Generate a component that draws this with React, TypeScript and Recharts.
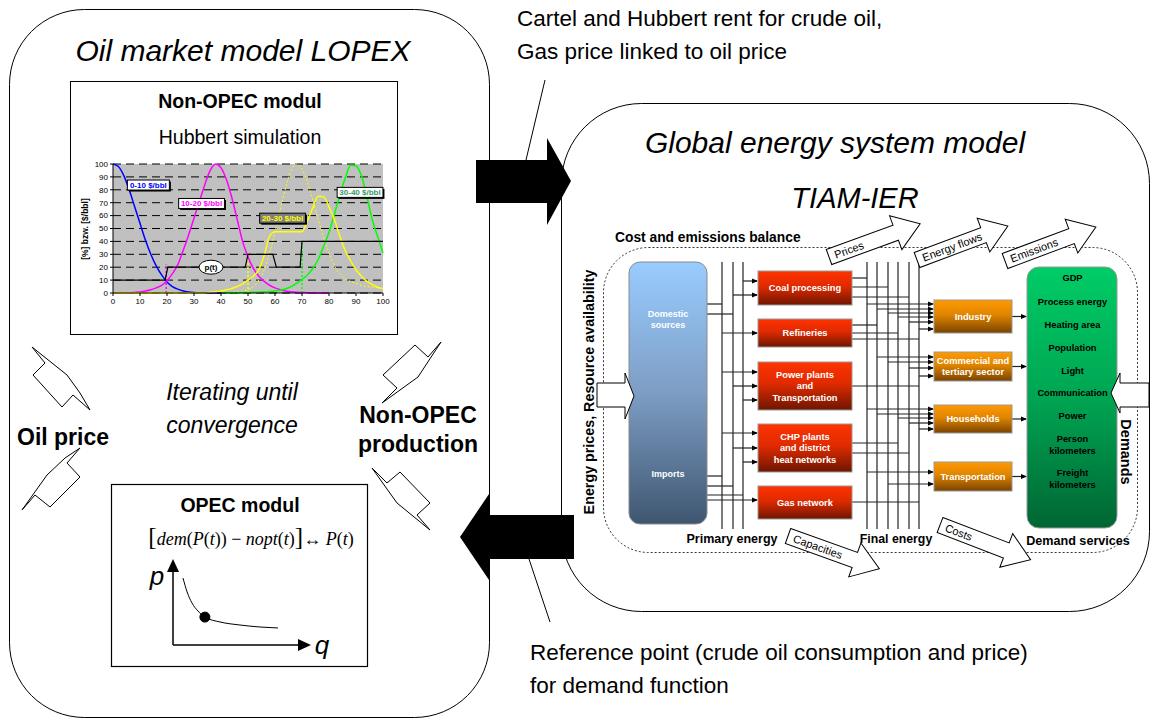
import React from 'react';
import { LineChart, Line, XAxis, YAxis, CartesianGrid, ReferenceDot } from 'recharts';

// Hubbert simulation (Non-OPEC modul), step 2 on x
const hubbertX = [
  0, 2, 4, 6, 8, 10, 12, 14, 16, 18, 20, 22, 24, 26, 28, 30, 32, 34, 36, 38, 40, 42, 44, 46, 48, 50,
  52, 54, 56, 58, 60, 62, 64, 66, 68, 70, 72, 74, 76, 78, 80, 82, 84, 86, 88, 90, 92, 94, 96, 98, 100,
];
const band0to10 = [
  100, 98, 91, 80, 67, 54, 41, 30, 21, 14, 8.5, 5, 3, 1.6, 0.8, 0.4, 0.2, 0.1, 0, 0, 0, 0,
  null, null, null, null, null, null, null, null, null, null, null, null, null, null, null, null, null, null,
  null, null, null, null, null, null, null, null, null, null, null,
];
const band10to20 = [
  0.1, 0.1, 0.1, 0.2, 0.3, 0.8, 1.5, 2.5, 4, 6, 9.5, 15, 22, 33, 45, 58, 71, 84, 95, 100, 97, 88, 74, 57, 40, 28,
  19, 13, 9, 6, 4, 2.5, 1.6, 1, 0.6, 0.4, 0.2, 0.1, 0, 0, 0, null, null, null, null, null, null, null, null, null, null,
];
const band20to30 = [
  0, 0, 0, 0, 0, 0, 0, 0, 0, 0, 0, 0, 0, 0, 0, 0, 0, 0, 0.5, 1, 1.5, 2.5, 3.5, 5, 7, 10,
  13, 18, 29, 44, 47.5, 47.5, 47.5, 47.5, 47.5, 47.5, 56, 66, 75, 74.5, 67, 57, 44, 33, 25, 18, 13, 9, 6.5, 4.5, 3.5,
];
const potential20to30 = [
  null, null, null, null, null, null, null, null, null, null, null, null, null, null, null, null, null, null, null, null,
  0.1, 0.2, 0.5, 0.9, 1.5, 2.5, 5, 10, 18, 31, 47, 65, 82, 95, 100, 96, 86, 72, 57, 43, 31, 21, 15, 11, 9, 7.5, 6, 5,
  4.5, 4, 3.5,
];
const band30to40 = [
  null, null, null, null, null, null, null, null, null, null, null, null, null, null, null, null, null, null, null, null,
  0, 0.1, 0.1, 0.2, 0.3, 0.4, 0.5, 0.7, 0.9, 1.2, 1.6, 2.2, 3.3, 5, 7.5, 10.5, 14, 19, 26, 36, 47, 61, 76, 89, 99,
  98.5, 91, 75, 57, 44, 31,
];
const priceStepX = [0, 19.3, 20.3, 49, 50, 59.2, 60.5, 69.3, 70, 100];
const priceStepY = [10, 10, 20, 20, 30, 30, 20, 20, 40, 40];
const dropX = [19.7, 50, 70];
const dropTop = [22, 30, 40];
const tagLabels = ['0-10 $/bbl', '10-20 $/bbl', '20-30 $/bbl', '30-40 $/bbl'];
const tagX = [13.1, 32.8, 62.8, 91.5];
const tagY = [83.7, 69.4, 58, 78];
const axisTicks = [0, 10, 20, 30, 40, 50, 60, 70, 80, 90, 100];

// OPEC modul demand curve
const demandQ = [0.69, 0.97, 1.31, 1.72, 2.2, 3.24, 4.62, 6, 7.24];
const demandP = [7.44, 5.9, 4.67, 3.78, 3.1, 2.56, 2.22, 2.0, 1.89];

// TIAM-IER labels
const conversionLabels = [['Coal processing'], ['Refineries'], ['Power plants', 'and', 'Transportation'], ['CHP plants', 'and district', 'heat networks'], ['Gas network']];
const sectorLabels = [['Industry'], ['Commercial and', 'tertiary sector'], ['Households'], ['Transportation']];
const demandLabels = [['GDP'], ['Process energy'], ['Heating area'], ['Population'], ['Light'], ['Communication'], ['Power'], ['Person', 'kilometers'], ['Freight', 'kilometers']];
const flowLabels = ['Prices', 'Energy flows', 'Emissions', 'Capacities', 'Costs'];

const FONT = 'Arial, "Liberation Sans", Helvetica, sans-serif';
const SERIF = '"Liberation Serif", "Times New Roman", serif';

const pts = (xs: number[], ys: (number | null)[]) => xs.map((x, i) => ({ x, y: ys[i] }));

const tagStyle = [
  { color: '#0000ff', fill: '#ffffff' },
  { color: '#ff00ff', fill: '#ffffff' },
  { color: '#ffff00', fill: '#7f7f7f' },
  { color: '#339966', fill: '#ffffff' },
];

function BandTag({ cx, cy, text, color, fill }: any) {
  const w = text.length * 3.8 + 4;
  return (
    <g>
      <rect x={cx - w / 2 + 1.5} y={cy - 5 + 1.5} width={w} height={10} fill="#000" />
      <rect x={cx - w / 2} y={cy - 5} width={w} height={10} fill={fill} stroke="#000" strokeWidth={1} />
      <text x={cx} y={cy + 3} textAnchor="middle" fontSize={8} fontWeight="bold" fill={color} fontFamily={FONT}>
        {text}
      </text>
    </g>
  );
}

function HubbertChart() {
  return (
    <LineChart width={315} height={150} margin={{ top: 6, right: 7, left: 16, bottom: 2 }}>
      <CartesianGrid vertical={false} stroke="#000" strokeDasharray="8 5" fill="#c0c0c0" fillOpacity={1} />
      <XAxis
        type="number"
        dataKey="x"
        domain={[0, 100]}
        ticks={axisTicks}
        height={13}
        tickSize={3}
        tick={{ fontSize: 8, fill: '#000', fontFamily: FONT }}
        stroke="#000"
        allowDuplicatedCategory={false}
      />
      <YAxis
        type="number"
        domain={[0, 100]}
        ticks={axisTicks}
        width={22}
        tickSize={3}
        interval={0}
        tick={{ fontSize: 8, fill: '#000', fontFamily: FONT }}
        stroke="#000"
      />
      {dropX.map((x, i) => (
        <Line
          key={`drop-${i}`}
          data={[{ x, y: 0 }, { x, y: dropTop[i] }]}
          dataKey="y"
          stroke={['#ff00ff', '#ffff00', '#00ff00'][i]}
          strokeWidth={1.5}
          strokeDasharray="2 2"
          dot={false}
          activeDot={false}
          isAnimationActive={false}
        />
      ))}
      <Line data={pts(hubbertX, potential20to30)} dataKey="y" type="monotone" stroke="#ffff00" strokeWidth={1} strokeDasharray="2 2" dot={false} activeDot={false} isAnimationActive={false} />
      <Line data={pts(hubbertX, band0to10)} dataKey="y" type="monotone" stroke="#0000ff" strokeWidth={1.5} dot={false} activeDot={false} isAnimationActive={false} />
      <Line data={pts(hubbertX, band10to20)} dataKey="y" type="monotone" stroke="#ff00ff" strokeWidth={1.5} dot={false} activeDot={false} isAnimationActive={false} />
      <Line data={pts(hubbertX, band30to40)} dataKey="y" type="monotone" stroke="#00ff00" strokeWidth={1.5} dot={false} activeDot={false} isAnimationActive={false} />
      <Line data={pts(hubbertX, band20to30)} dataKey="y" type="monotone" stroke="#ffff00" strokeWidth={1.5} dot={false} activeDot={false} isAnimationActive={false} />
      <Line data={pts(priceStepX, priceStepY)} dataKey="y" type="linear" stroke="#000" strokeWidth={1.2} dot={false} activeDot={false} isAnimationActive={false} />
      {tagLabels.map((t, i) => (
        <ReferenceDot
          key={t}
          x={tagX[i]}
          y={tagY[i]}
          r={0}
          shape={(p: any) => <BandTag cx={p.cx} cy={p.cy} text={t} color={tagStyle[i].color} fill={tagStyle[i].fill} />}
        />
      ))}
      <ReferenceDot
        x={36.3}
        y={20}
        r={0}
        shape={(p: any) => (
          <g>
            <ellipse cx={p.cx} cy={p.cy} rx={12} ry={7} fill="#fff" stroke="#000" />
            <text x={p.cx} y={p.cy + 3} textAnchor="middle" fontSize={8} fontWeight="bold" fontFamily={FONT}>p(t)</text>
          </g>
        )}
      />
    </LineChart>
  );
}

function OpecCurve() {
  return (
    <LineChart width={145} height={90} margin={{ top: 0, right: 0, left: 0, bottom: 0 }}>
      <XAxis type="number" dataKey="x" domain={[0, 10]} hide />
      <YAxis type="number" domain={[0, 10]} hide />
      <Line data={pts(demandQ, demandP)} dataKey="y" type="monotone" stroke="#000" strokeWidth={1} dot={false} activeDot={false} isAnimationActive={false} />
      <ReferenceDot x={demandQ[4]} y={demandP[4]} r={5} fill="#000" stroke="#000" />
    </LineChart>
  );
}

function FlowArrow({ x, y, angle, length, label }: any) {
  const h = 8;
  const hh = 18;
  const head = 26;
  const p = [[0, -h], [length - head, -h], [length - head, -hh], [length, 0], [length - head, hh], [length - head, h], [0, h]];
  return (
    <g transform={`translate(${x},${y}) rotate(${angle})`}>
      <polygon points={p.map((q) => q.join(',')).join(' ')} fill="#fff" stroke="#000" strokeWidth={1} />
      <text x={6} y={4} fontSize={11} fontFamily={FONT}>{label}</text>
    </g>
  );
}

function BoxText({ cx, cy, lines, size, color, lh }: any) {
  return (
    <>
      {lines.map((l: string, i: number) => (
        <text key={i} x={cx} y={cy + (i - (lines.length - 1) / 2) * lh + size * 0.36} textAnchor="middle" fontSize={size} fontWeight="bold" fill={color} fontFamily={FONT}>
          {l}
        </text>
      ))}
    </>
  );
}

const poly = (p: number[][]) => p.map((q) => q.join(',')).join(' ');

export default function App() {
  const primaryX = [722, 733, 743];
  const finalX = [867, 877, 888, 898, 909, 919];
  const redY = [[271, 305], [319, 347], [362, 410], [424, 472], [486, 519]];
  const orangeY = [[300, 333], [352, 381], [405, 433], [462, 491]];
  const demandCY = [278, 302, 325, 348, 371, 393, 416, 444.5, 478.5];
  const feedIn: number[][] = [[304, 722], [314, 733], [476, 722], [486, 733], [495, 743]];
  const toRed: number[][] = [[281, 743], [295, 733], [333, 722], [372, 722], [386, 733], [400, 743], [433, 722], [448, 733], [462, 743], [500, 707]];
  const fromRed: number[][] = [[278, 867], [287, 888], [297, 909], [325, 877], [333, 898], [339, 919], [386, 919], [443, 898], [453, 909], [502, 919]];
  const toOrange: number[][] = [
    [304, 867], [309, 877], [313, 888], [317, 898], [322, 909], [329, 919],
    [357, 877], [362, 888], [368, 909], [376, 919],
    [409, 867], [414, 877], [418, 898], [423, 909], [429, 919],
    [472, 867], [484, 888],
  ];
  const flows = [
    { x: 829, y: 257, a: -20 },
    { x: 917, y: 260, a: -20.5 },
    { x: 1005, y: 261, a: -20.5 },
    { x: 788, y: 536, a: 19.7 },
    { x: 940, y: 525, a: 21 },
  ];

  return (
    <div style={{ position: 'absolute', left: 0, top: 0, width: 1154, height: 722, background: '#fff', fontFamily: FONT }}>
      <svg width={1154} height={722} style={{ position: 'absolute', left: 0, top: 0 }}>
        <defs>
          <marker id="ah" markerWidth={6} markerHeight={6} refX={5} refY={3} orient="auto" markerUnits="userSpaceOnUse">
            <path d="M0,0.5 L6,3 L0,5.5 Z" fill="#000" />
          </marker>
          <linearGradient id="gBlue" x1="0" y1="0" x2="0" y2="1">
            <stop offset="0" stopColor="#99ccff" />
            <stop offset="0.5" stopColor="#7d9dc4" />
            <stop offset="1" stopColor="#3f5670" />
          </linearGradient>
          <linearGradient id="gRed" x1="0" y1="0" x2="0" y2="1">
            <stop offset="0" stopColor="#ff3300" />
            <stop offset="0.45" stopColor="#e02a00" />
            <stop offset="1" stopColor="#6e1600" />
          </linearGradient>
          <linearGradient id="gOrange" x1="0" y1="0" x2="0" y2="1">
            <stop offset="0" stopColor="#ff9900" />
            <stop offset="0.45" stopColor="#e08500" />
            <stop offset="1" stopColor="#7a4300" />
          </linearGradient>
          <linearGradient id="gGreen" x1="0" y1="0" x2="0" y2="1">
            <stop offset="0" stopColor="#00cc66" />
            <stop offset="0.5" stopColor="#00a552" />
            <stop offset="1" stopColor="#006633" />
          </linearGradient>
        </defs>

        {/* left: oil market model */}
        <rect x={9.5} y={9.5} width={480} height={708} rx={75} fill="#fff" stroke="#000" strokeWidth={1} />
        <text x={243} y={61} textAnchor="middle" fontSize={30} fontStyle="italic">Oil market model LOPEX</text>
        <rect x={70.5} y={81.5} width={327} height={253} fill="#fff" stroke="#000" strokeWidth={1} />
        <text x={240} y={108} textAnchor="middle" fontSize={19.5} fontWeight="bold">Non-OPEC modul</text>
        <text x={240} y={144} textAnchor="middle" fontSize={19.5}>Hubbert simulation</text>
        <text transform="rotate(-90, 88, 229)" x={88} y={229} textAnchor="middle" fontSize={8.5} fontWeight="bold">[%] bzw. [$/bbl]</text>

        <text x={232} y={400} textAnchor="middle" fontSize={23} fontStyle="italic">Iterating until</text>
        <text x={232} y={433} textAnchor="middle" fontSize={23} fontStyle="italic">convergence</text>
        <text x={17} y={445} fontSize={23} fontWeight="bold">Oil price</text>
        <text x={418} y={423} textAnchor="middle" fontSize={23} fontWeight="bold">Non-OPEC</text>
        <text x={418} y={452} textAnchor="middle" fontSize={23} fontWeight="bold">production</text>

        <polygon points={poly([[32, 347], [67, 375], [80, 393], [90, 410], [73, 395], [62, 407], [33, 375], [45, 363]])} fill="#fff" stroke="#000" />
        <polygon points={poly([[80, 448], [67, 463], [80, 477], [50, 507], [35, 495], [22, 510], [47, 475], [65, 458]])} fill="#fff" stroke="#000" />
        <polygon points={poly([[441, 342], [428, 357], [415, 345], [383, 375], [397, 388], [382, 403], [418, 377]])} fill="#fff" stroke="#000" />
        <polygon points={poly([[372, 468], [387, 483], [400, 472], [430, 503], [417, 515], [430, 530], [397, 503]])} fill="#fff" stroke="#000" />

        <rect x={111.5} y={484.5} width={256} height={182} fill="#fff" stroke="#000" strokeWidth={1.2} />
        <text x={240} y={512} textAnchor="middle" fontSize={19.5} fontWeight="bold">OPEC modul</text>
        <text x={251} y={545} textAnchor="middle" fontSize={18} fontFamily={SERIF}>
          <tspan fontSize={25}>[</tspan>
          <tspan fontStyle="italic">dem</tspan>(<tspan fontStyle="italic">P</tspan>(<tspan fontStyle="italic">t</tspan>))
          {' \u2212 '}
          <tspan fontStyle="italic">nopt</tspan>(<tspan fontStyle="italic">t</tspan>)
          <tspan fontSize={25}>]</tspan>
          {'\u2194 '}
          <tspan fontStyle="italic">P</tspan>(<tspan fontStyle="italic">t</tspan>)
        </text>
        <line x1={173} y1={645} x2={173} y2={570} stroke="#000" strokeWidth={1.5} />
        <path d="M167,572 L173,559 L179,572 Z" fill="#000" />
        <line x1={173} y1={645} x2={300} y2={645} stroke="#000" strokeWidth={1.5} />
        <path d="M298,639 L311,645 L298,651 Z" fill="#000" />
        <text x={157} y={585} textAnchor="middle" fontSize={26} fontStyle="italic">p</text>
        <text x={322} y={654} textAnchor="middle" fontSize={26} fontStyle="italic">q</text>

        {/* right: global energy system model */}
        <rect x={561.5} y={103.5} width={588} height={508} rx={80} fill="#fff" stroke="#000" strokeWidth={1} />
        <text x={835} y={153} textAnchor="middle" fontSize={30} fontStyle="italic">Global energy system model</text>
        <text x={855} y={208} textAnchor="middle" fontSize={29} fontStyle="italic">TIAM-IER</text>
        <rect x={603.5} y={247.5} width={534} height={305} rx={45} fill="none" stroke="#000" strokeWidth={0.8} strokeDasharray="2 2" />
        <text x={615} y={242} fontSize={13.8} fontWeight="bold">Cost and emissions balance</text>
        <text transform="rotate(-90, 594, 392)" x={594} y={392} textAnchor="middle" fontSize={14.3} fontWeight="bold">Energy prices, Resource availability</text>
        <text transform="rotate(90, 1121, 452)" x={1121} y={452} textAnchor="middle" fontSize={14.5} fontWeight="bold">Demands</text>
        <text x={732} y={543} textAnchor="middle" fontSize={12.5} fontWeight="bold">Primary energy</text>
        <text x={896} y={543} textAnchor="middle" fontSize={12.3} fontWeight="bold">Final energy</text>
        <text x={1078} y={545} textAnchor="middle" fontSize={12.6} fontWeight="bold">Demand services</text>

        {/* network lines */}
        {primaryX.map((x) => (
          <line key={`p${x}`} x1={x} y1={262} x2={x} y2={529} stroke="#222" strokeWidth={1.2} />
        ))}
        {finalX.map((x) => (
          <line key={`f${x}`} x1={x} y1={262} x2={x} y2={529} stroke="#222" strokeWidth={1.2} />
        ))}
        {feedIn.map(([y, x]) => (
          <line key={`fi${y}`} x1={707} y1={y} x2={x} y2={y} stroke="#222" strokeWidth={1.2} />
        ))}
        {toRed.map(([y, x]) => (
          <line key={`tr${y}`} x1={x} y1={y} x2={757} y2={y} stroke="#222" strokeWidth={1.2} markerEnd="url(#ah)" />
        ))}
        {fromRed.map(([y, x]) => (
          <line key={`fr${y}`} x1={852} y1={y} x2={x} y2={y} stroke="#222" strokeWidth={1.2} />
        ))}
        {toOrange.map(([y, x]) => (
          <line key={`to${y}`} x1={x} y1={y} x2={933} y2={y} stroke="#222" strokeWidth={1.2} markerEnd="url(#ah)" />
        ))}
        {orangeY.map(([a, b]) => (
          <line key={`og${a}`} x1={1012} y1={(a + b) / 2} x2={1026} y2={(a + b) / 2} stroke="#222" strokeWidth={1.2} markerEnd="url(#ah)" />
        ))}

        {/* boxes */}
        <rect x={629} y={262} width={78} height={262} rx={11} fill="url(#gBlue)" stroke="#8a8a8a" strokeWidth={1} />
        <BoxText cx={668} cy={319.5} lines={['Domestic', 'sources']} size={9} color="#fff" lh={11.3} />
        <BoxText cx={668} cy={474} lines={['Imports']} size={9} color="#fff" lh={11.3} />
        {redY.map(([a, b], i) => (
          <g key={`r${i}`}>
            <rect x={758} y={a} width={94} height={b - a} fill="url(#gRed)" stroke="#999" strokeWidth={1} />
            <BoxText cx={805} cy={(a + b) / 2} lines={conversionLabels[i]} size={9.3} color="#fff" lh={11.5} />
          </g>
        ))}
        {orangeY.map(([a, b], i) => (
          <g key={`o${i}`}>
            <rect x={934} y={a} width={78} height={b - a} fill="url(#gOrange)" stroke="#999" strokeWidth={1} />
            <BoxText cx={973} cy={(a + b) / 2} lines={sectorLabels[i]} size={9.3} color="#fff" lh={11} />
          </g>
        ))}
        <rect x={1027} y={267} width={90} height={261} rx={12} fill="url(#gGreen)" stroke="#999" strokeWidth={1} />
        {demandLabels.map((l, i) => (
          <BoxText key={`d${i}`} cx={1072.5} cy={demandCY[i]} lines={l} size={9.3} color="#000" lh={11.5} />
        ))}

        {/* input arrows */}
        <polygon points={poly([[597, 383], [625, 383], [625, 373], [634, 396], [625, 419], [625, 407], [597, 407]])} fill="#fff" stroke="#000" />
        <polygon points={poly([[1149, 383], [1120, 383], [1120, 373], [1111, 393], [1120, 413], [1120, 407], [1149, 407]])} fill="#fff" stroke="#000" />

        {flows.map((f, i) => (
          <FlowArrow key={flowLabels[i]} x={f.x} y={f.y} angle={f.a} length={97} label={flowLabels[i]} />
        ))}

        {/* exchange arrows and callouts */}
        <polygon points={poly([[476, 160], [547, 160], [547, 138], [571, 181], [547, 225], [547, 203], [476, 203]])} fill="#000" />
        <polygon points={poly([[574, 515], [489, 515], [489, 494], [460, 537], [489, 580], [489, 559], [574, 559]])} fill="#000" />
        <line x1={545} y1={80} x2={526} y2={160} stroke="#000" strokeWidth={1} />
        <line x1={529} y1={559} x2={550} y2={622} stroke="#000" strokeWidth={1} />
        <text x={517} y={26} fontSize={22.5}>Cartel and Hubbert rent for crude oil,</text>
        <text x={517} y={59} fontSize={22.5}>Gas price linked to oil price</text>
        <text x={530} y={660} fontSize={22.5}>Reference point (crude oil consumption and price)</text>
        <text x={530} y={693} fontSize={22.5}>for demand function</text>
      </svg>

      <div style={{ position: 'absolute', left: 75, top: 158, width: 315, height: 150 }}>
        <HubbertChart />
      </div>
      <div style={{ position: 'absolute', left: 173, top: 555, width: 145, height: 90 }}>
        <OpecCurve />
      </div>
    </div>
  );
}
